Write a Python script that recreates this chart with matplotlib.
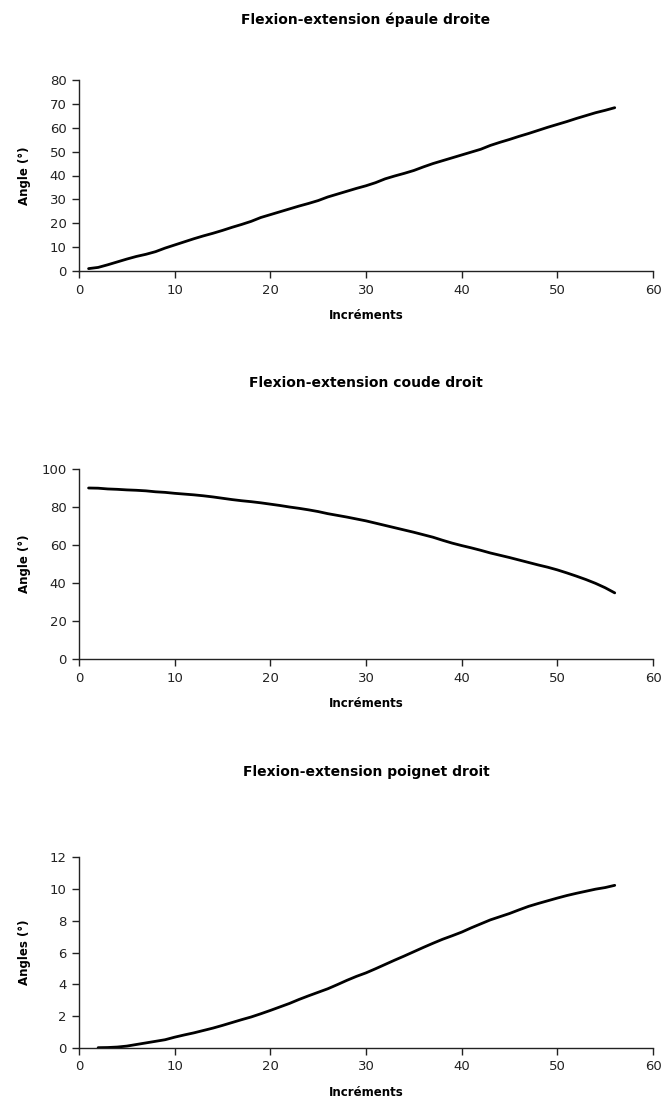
import matplotlib
matplotlib.use("Agg")

import numpy as np
import matplotlib.pyplot as plt

# ── Data ────────────────────────────────────────────────────────────────────
x_epaule = list(range(1, 57))
y_epaule = [1.0, 1.5, 2.6, 3.8, 5.0, 6.1, 7.0, 8.1, 9.6, 10.9,
            12.2, 13.5, 14.7, 15.8, 17.0, 18.3, 19.5, 20.8, 22.4, 23.6,
            24.8, 26.0, 27.2, 28.3, 29.5, 31.0, 32.2, 33.4, 34.6, 35.7,
            37.0, 38.6, 39.8, 40.9, 42.1, 43.6, 45.0, 46.2, 47.4, 48.6,
            49.8, 51.0, 52.6, 53.9, 55.1, 56.4, 57.6, 58.9, 60.2, 61.4,
            62.6, 63.9, 65.1, 66.3, 67.3, 68.4]

x_coude = list(range(1, 57))
y_coude = [90.0, 89.9, 89.5, 89.3, 89.0, 88.8, 88.5, 88.0, 87.7, 87.2,
           86.8, 86.4, 85.9, 85.3, 84.6, 83.9, 83.3, 82.8, 82.2, 81.5,
           80.8, 80.0, 79.3, 78.5, 77.6, 76.5, 75.6, 74.7, 73.7, 72.7,
           71.5, 70.3, 69.1, 67.9, 66.7, 65.4, 64.1, 62.5, 61.0, 59.7,
           58.5, 57.2, 55.8, 54.6, 53.4, 52.1, 50.8, 49.5, 48.3, 46.9,
           45.3, 43.6, 41.8, 39.8, 37.5, 34.8]

x_poignet = list(range(2, 57))
y_poignet = [0.02, 0.03, 0.06, 0.12, 0.22, 0.32, 0.42, 0.52, 0.68,
             0.82, 0.95, 1.10, 1.25, 1.42, 1.60, 1.78, 1.95, 2.15, 2.36,
             2.58, 2.80, 3.05, 3.28, 3.50, 3.72, 3.98, 4.25, 4.50, 4.72,
             4.98, 5.25, 5.52, 5.78, 6.05, 6.32, 6.58, 6.83, 7.05, 7.28,
             7.55, 7.80, 8.05, 8.25, 8.45, 8.68, 8.90, 9.08, 9.25, 9.42,
             9.58, 9.72, 9.85, 9.98, 10.08, 10.22]

titles  = ["Flexion-extension épaule droite",
           "Flexion-extension coude droit",
           "Flexion-extension poignet droit"]
ylabels = ["Angle (°)", "Angle (°)", "Angles (°)"]
yticks  = [list(range(0, 81, 10)), list(range(0, 101, 20)), list(range(0, 13, 2))]
xticks  = list(range(0, 61, 10))

series = [(x_epaule, y_epaule), (x_coude, y_coude), (x_poignet, y_poignet)]

# ── Figure ──────────────────────────────────────────────────────────────────
W, H = 662, 1119
fig = plt.figure(figsize=(W / 100, H / 100), dpi=100)

# axes boxes in pixels: (top, bottom)
boxes = [(80, 271), (469, 659), (857, 1048)]
title_y = [20, 383, 772]
left_px, right_px = 79, 653

for (xs, ys), title, ylab, yt, (top, bot), ty in zip(series, titles, ylabels, yticks, boxes, title_y):
    ax = fig.add_axes([left_px / W, 1 - bot / H, (right_px - left_px) / W, (bot - top) / H])
    ax.plot(xs, ys, color="black", lw=2.0, solid_capstyle="round")
    ax.set_xlim(0, 60)
    ax.set_ylim(yt[0], yt[-1])
    ax.set_xticks(xticks)
    ax.set_yticks(yt)
    for s in ["top", "right"]:
        ax.spines[s].set_visible(False)
    for s in ["left", "bottom"]:
        ax.spines[s].set_linewidth(1.0)
        ax.spines[s].set_color("#222222")
    ax.tick_params(direction="out", length=5, width=1, pad=4,
                   labelsize=9.5, colors="#222222", labelcolor="#222222")
    ax.set_xlabel("Incréments", fontsize=8.5, fontweight="bold")
    ax.set_ylabel(ylab, fontsize=8.5, fontweight="bold")
    ax.xaxis.set_label_coords(0.5, -38 / (bot - top))
    ax.yaxis.set_label_coords(-48 / (right_px - left_px), 0.5)
    fig.text(366 / W, 1 - ty / H, title, ha="center", va="center",
             fontsize=10, fontweight="bold")

fig.savefig("out.png", dpi=100)
plt.close(fig)
